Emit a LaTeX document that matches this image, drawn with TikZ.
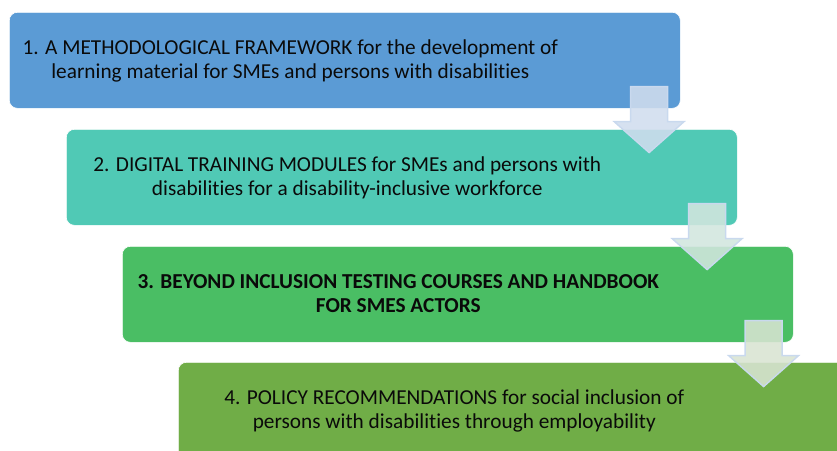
\documentclass[tikz,border=0pt]{standalone}
\usepackage{fontspec}
\setmainfont{Carlito}[Ligatures=NoCommon]
\usetikzlibrary{calc}

\definecolor{stepblue}{HTML}{5B9BD5}
\definecolor{stepteal}{HTML}{50C9B5}
\definecolor{stepgreen}{HTML}{4ABE64}
\definecolor{stepolive}{HTML}{70AD47}
\definecolor{arrowrim}{HTML}{C9D9EE}
\definecolor{arrowfillA}{HTML}{D0DDEE}
\definecolor{arrowfillB}{HTML}{D2E6DE}
\definecolor{arrowfillC}{HTML}{D8E4D2}
\definecolor{textdark}{HTML}{0A0A0A}

\tikzset{
  stagebox/.style={draw=white, line width=0.6pt, rounded corners=8pt,
    minimum width=671pt, minimum height=96pt, anchor=north west, inner sep=0pt},
  stagetext/.style={align=center, inner sep=0pt, text=textdark,
    font=\fontsize{21.3}{24}\selectfont},
  pics/stagearrow/.style={code={
    \path[draw=arrowrim, line width=1.4pt, fill=#1, fill opacity=0.88, line join=miter]
      (-18.5,0) -- (18.5,0) -- (18.5,35) -- (35,35) -- (0,66)
      -- (-35,35) -- (-18.5,35) -- cycle;
  }},
}

\begin{document}
\begin{tikzpicture}[x=1pt, y=-1pt]
  \useasboundingbox (0,0) rectangle (837,450);
  \clip (0,0) rectangle (837,450);

  % the four stages, stepping down to the right
  \node[stagebox, fill=stepblue]  (b1) at (9,12)   {};
  \node[stagebox, fill=stepteal]  (b2) at (66,129) {};
  \node[stagebox, fill=stepgreen] (b3) at (122,246) {};
  \node[stagebox, fill=stepolive] (b4) at (178,362) {};

  \node[stagetext] (t1) at ($(b1.center)+(-54.5,1.4)$)
    {\strut 1. A METHODOLOGICAL FRAMEWORK for the development of\\
     learning material for SMEs and persons with disabilities\strut};
  \node[stagetext] (t2) at ($(b2.center)+(-54.5,1.4)$)
    {\strut 2. DIGITAL TRAINING MODULES for SMEs and persons with\\
     disabilities for a disability-inclusive workforce\strut};
  \node[stagetext, font=\fontsize{21.3}{24}\selectfont\bfseries] (t3) at ($(b3.center)+(-59.5,1.4)$)
    {\strut 3. BEYOND INCLUSION TESTING COURSES AND HANDBOOK\\
     FOR SMES ACTORS\strut};
  \node[stagetext] (t4) at ($(b4.center)+(-59.5,1.4)$)
    {\strut 4. POLICY RECOMMENDATIONS for social inclusion of\\
     persons with disabilities through employability\strut};

  % down arrows linking each stage to the next
  \coordinate (a1) at ($(b1.south east)+(-31.5,-22)$);
  \coordinate (a2) at ($(b2.south east)+(-30.5,-22)$);
  \coordinate (a3) at ($(b3.south east)+(-30,-22)$);
  \pic at (a1) {stagearrow=arrowfillA};
  \pic at (a2) {stagearrow=arrowfillB};
  \pic at (a3) {stagearrow=arrowfillC};
\end{tikzpicture}
\end{document}
